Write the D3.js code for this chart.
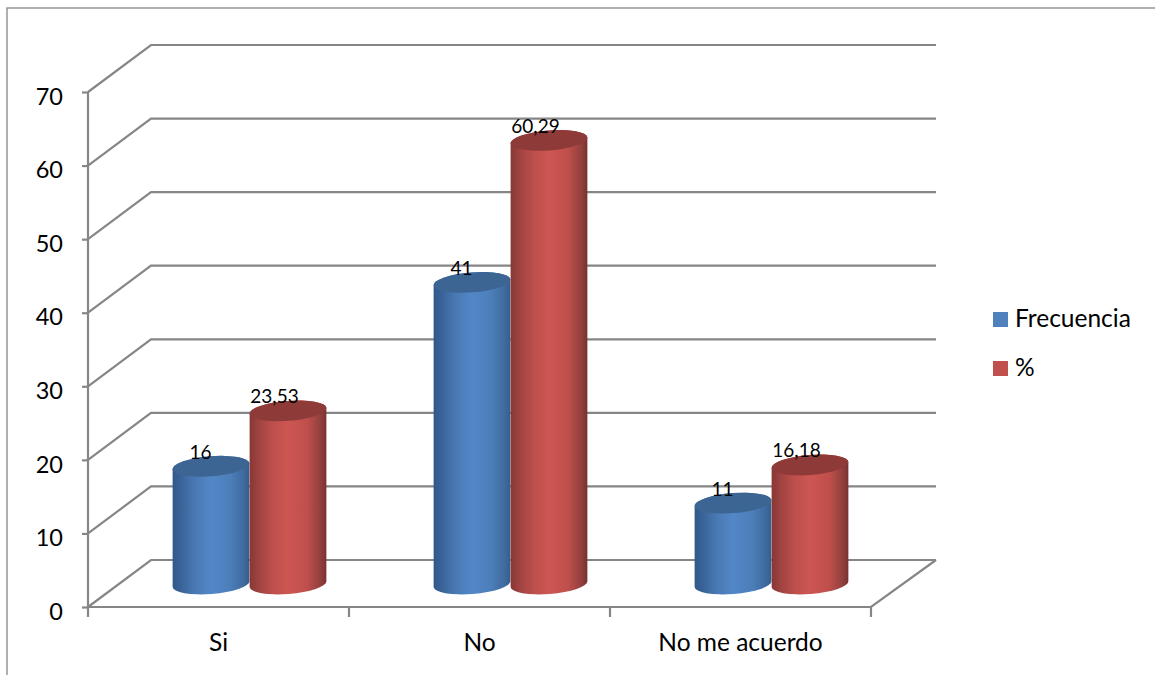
<!DOCTYPE html>
<html>
<head>
<meta charset="utf-8">
<script src="https://cdn.jsdelivr.net/npm/d3@7"></script>
<style>
  html, body { margin: 0; padding: 0; background: #fff; overflow: hidden; }
  svg { display: block; }
  text { font-family: Lato, "Open Sans", sans-serif; fill: #000; }
</style>
</head>
<body>
<svg id="chart" width="1155" height="675"></svg>
<script>
const categories = ["Si", "No", "No me acuerdo"];
const seriesNames = ["Frecuencia", "%"];
const frecuencia = [16, 41, 11];
const porcentaje = [23.53, 60.29, 16.18];
const frecuenciaLabels = ["16", "41", "11"];
const porcentajeLabels = ["23,53", "60,29", "16,18"];
const yTicks = [0, 10, 20, 30, 40, 50, 60, 70];

const svg = d3.select("#chart");
const grey = "#868686";

// Front plane of the 3D box
const x = d3.scaleBand().domain(categories).range([88, 871]);
const y = d3.scaleLinear().domain([0, 70]).range([607, 92]);

// Depth of the box, and how far into it the cylinders stand
const wallDx = 65, wallDy = -47;
const barDx = 31, barDy = -23;

const series = [
  { name: seriesNames[0], values: frecuencia, labels: frecuenciaLabels, swatch: "#4f81bd", cap: "#3d6594",
    stops: [[0, "#30588a"], [0.12, "#3a659a"], [0.3, "#4a7ab5"], [0.5, "#5287c7"], [0.75, "#4c7eb9"], [0.92, "#3f6b9f"], [1, "#365e8d"]] },
  { name: seriesNames[1], values: porcentaje, labels: porcentajeLabels, swatch: "#c0504d", cap: "#8e3a38",
    stops: [[0, "#873735"], [0.12, "#a04341"], [0.3, "#bd4f4c"], [0.5, "#cd5652"], [0.75, "#bf4f4c"], [0.92, "#93403d"], [1, "#783230"]] }
];
const sub = d3.scaleBand().domain(seriesNames).range([-77, 77]);

// Outer chart border, open past the page edges
svg.append("rect").attr("x", 7).attr("y", 8).attr("width", 1200).attr("height", 720)
  .attr("fill", "none").attr("stroke", grey).attr("stroke-width", 1.3);

// Gridlines running along the side wall and the back wall
const wall = svg.append("g").attr("fill", "none").attr("stroke", grey).attr("stroke-width", 2.2);
const backX = x.range()[0] + 63;
wall.selectAll("path.grid").data(yTicks).join("path").attr("class", "grid")
  .attr("d", d => `M${x.range()[0]},${y(d)}L${backX},${y(d) + wallDy}L${x.range()[1] + wallDx},${y(d) + wallDy}`);

// Floor edges
wall.append("path").attr("d",
  `M${x.range()[0]},${y(0)}L${x.range()[1]},${y(0)}L${x.range()[1] + wallDx},${y(0) + wallDy}`);

// Value axis
const yAxis = d3.axisLeft(y).tickValues(yTicks).tickSize(6).tickPadding(19).tickFormat(d3.format("d"));
const yG = svg.append("g").attr("transform", `translate(${x.range()[0]},0)`).call(yAxis);
yG.selectAll("path, line").attr("stroke", grey).attr("stroke-width", 2.2);
yG.select("path.domain").attr("d", `M0,${y(70)}V${y(0) + 2}`);
yG.selectAll("text").attr("font-size", 23.5).attr("fill", "#000").attr("dy", "0.52em");

// Category axis: labels centred in each band, ticks on the band edges
const xAxis = d3.axisBottom(x).tickSize(0).tickPadding(27);
const xG = svg.append("g").attr("transform", `translate(0,${y(0)})`).call(xAxis);
xG.select("path.domain").remove();
xG.selectAll("text").attr("font-size", 24.5).attr("fill", "#000");
const edges = categories.map(c => x(c)).concat(x.range()[1]);
svg.append("g").selectAll("line").data(edges).join("line")
  .attr("x1", d => d).attr("x2", d => d).attr("y1", y(0)).attr("y2", y(0) + 10)
  .attr("stroke", grey).attr("stroke-width", 2.2);

// Horizontal shading for the cylinder sides
const defs = svg.append("defs");
series.forEach((s, i) => {
  const g = defs.append("linearGradient").attr("id", "side" + i)
    .attr("x1", "0%").attr("x2", "100%").attr("y1", "0%").attr("y2", "0%");
  s.stops.forEach(st => g.append("stop").attr("offset", st[0]).attr("stop-color", st[1]));
});

// Cylinders: a tilted ellipse on top of a shaded body
const rx = sub.bandwidth() / 2, ry = 10, tilt = -4.5;
const cos = Math.cos(tilt * Math.PI / 180), sin = Math.sin(tilt * Math.PI / 180);
const bars = svg.append("g");
series.forEach((s, i) => {
  categories.forEach((c, k) => {
    const cx = x(c) + x.bandwidth() / 2 + barDx + sub(s.name) + rx;
    const base = y(0) + barDy;
    const top = y(s.values[k]) + barDy;
    const dx = rx * cos, dy = rx * sin;
    const g = bars.append("g");
    g.append("path")
      .attr("fill", `url(#side${i})`)
      .attr("d", `M${cx - dx},${top - dy}L${cx - dx},${base - dy}` +
                 `A${rx},${ry} ${tilt} 0 0 ${cx + dx},${base + dy}` +
                 `L${cx + dx},${top + dy}` +
                 `A${rx},${ry} ${tilt} 0 0 ${cx - dx},${top - dy}Z`);
    g.append("ellipse")
      .attr("rx", rx).attr("ry", ry).attr("fill", s.cap)
      .attr("transform", `translate(${cx},${top}) rotate(${tilt})`);
  });
});

// Data labels sit above and slightly left of each cap
series.forEach(s => {
  categories.forEach((c, k) => {
    const cx = x(c) + x.bandwidth() / 2 + barDx + sub(s.name) + rx;
    svg.append("text")
      .attr("x", cx - (s.labels[k].length > 2 ? 13.5 : 10.5))
      .attr("y", y(s.values[k]) + barDy - 7.5)
      .attr("text-anchor", "middle").attr("font-size", 19)
      .text(s.labels[k]);
  });
});

// Legend
const legendY = d3.scalePoint().domain(seriesNames).range([312, 361]);
const legend = svg.append("g").selectAll("g").data(series).join("g")
  .attr("transform", d => `translate(993,${legendY(d.name)})`);
legend.append("rect").attr("width", 15).attr("height", 15).attr("fill", d => d.swatch);
legend.append("text").attr("x", 22).attr("y", 15).attr("font-size", 24.5).text(d => d.name);
</script>
</body>
</html>
